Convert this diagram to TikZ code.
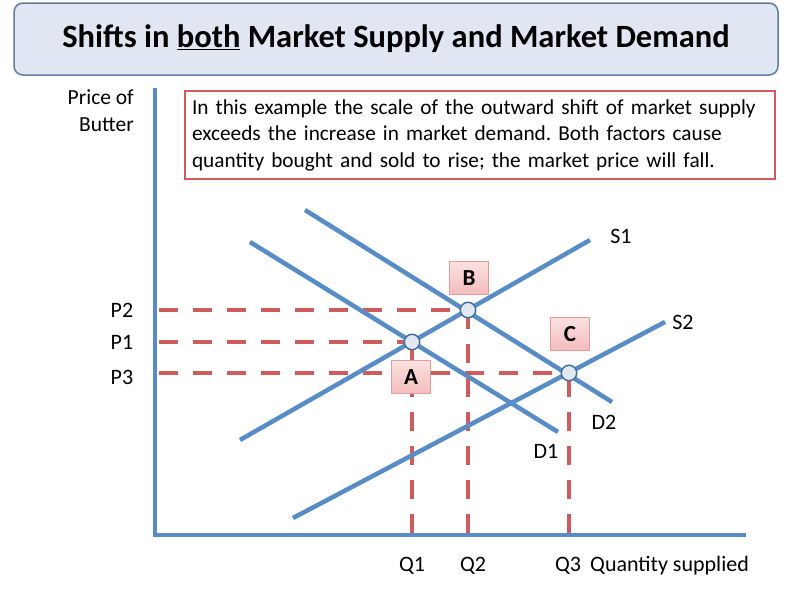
\documentclass[tikz,border=0pt]{standalone}
\usepackage{fontspec}
\setmainfont{Carlito}
\frenchspacing
\begin{document}
\begin{tikzpicture}[x=1pt,y=-1pt,
  curve/.style={draw=cblue,line width=4.5pt},
  axis/.style={draw=cblue,line width=4pt},
  guide/.style={draw=cred,line width=4.5pt,dash pattern=on 19pt off 15pt},
  lab/.style={font=\fontsize{22}{25}\selectfont,inner sep=0pt},
  eqpt/.style={circle,draw=cblue!80!black,line width=1.5pt,fill=cfill,minimum size=15.5pt,inner sep=0pt},
  tag/.style={draw=cred!60,line width=1pt,top color=cpink!45,bottom color=cpink,minimum width=39pt,minimum height=33pt,inner sep=0pt,font=\fontsize{23}{26}\selectfont\bfseries}]
\definecolor{cblue}{RGB}{88,140,198}
\definecolor{cred}{RGB}{206,92,92}
\definecolor{cfill}{RGB}{225,232,243}
\definecolor{cpink}{RGB}{244,188,188}
\definecolor{tfill}{RGB}{224,231,242}
\definecolor{tborder}{RGB}{98,124,160}
\useasboundingbox[fill=white] (0,0) rectangle (800,597);
% title
\node[draw=tborder,line width=1.5pt,fill=tfill,rounded corners=9pt,minimum width=764pt,minimum height=72pt,inner sep=0pt,
  font=\fontsize{32.5}{38}\selectfont\bfseries] (title) at (396,39) {Shifts in \underline{both} Market Supply and Market Demand};
% text box
\node[draw=cred,line width=1.5pt,fill=white,minimum width=590pt,minimum height=88pt,inner xsep=7pt,inner ysep=0pt,text width=576pt,align=left,
  font=\fontsize{21.3}{26.5}\selectfont] (note) at (480,135) {In this example the scale of the outward shift of market supply\\exceeds the increase in market demand. Both factors cause\\quantity bought and sold to rise; the market price will fall.};
% axes
\coordinate (origin) at (155,535);
\coordinate (ytop) at (155,88);
\coordinate (xend) at (746,535);
% equilibria
\coordinate (A) at (412,342);
\coordinate (B) at (468,310);
\coordinate (C) at (569,373);
% axis feet
\coordinate (p2) at (159,310);
\coordinate (p1) at (159,342);
\coordinate (p3) at (159,373);
\coordinate (q1) at (412,533);
\coordinate (q2) at (468,533);
\coordinate (q3) at (569,533);
% guides
\draw[guide] (p2) -- (B);
\draw[guide] (p1) -- (A);
\draw[guide] (p3) -- (C);
\draw[guide] (q1) -- (A);
\draw[guide] (q2) -- (B);
\draw[guide] (q3) -- (C);
% axes drawn
\draw[axis] (ytop) -- (origin) -- (xend);
% curves
\coordinate (s1s) at (240,440);
\coordinate (s1e) at (590,240);
\coordinate (s2s) at (293,518);
\coordinate (s2e) at (665,322);
\coordinate (d1s) at (250,242);
\coordinate (d1e) at (558,432);
\coordinate (d2s) at (305,210);
\coordinate (d2e) at (612,402);
\draw[curve] (s1s) -- (s1e);
\draw[curve] (s2s) -- (s2e);
\draw[curve] (d1s) -- (d1e);
\draw[curve] (d2s) -- (d2e);
% points
\node[eqpt] (pa) at (A) {};
\node[eqpt] (pb) at (B) {};
\node[eqpt] (pc) at (C) {};
% tags
\node[tag] (ta) at (411,377) {A};
\node[tag] (tb) at (469,278) {B};
\node[tag] (tc) at (570,334) {C};
% labels
\node[lab,anchor=east,align=right,font=\fontsize{21.5}{27}\selectfont] (ylab) at (134,111) {Price of\\Butter};
\node[lab] (lp2) at (122,310) {P2};
\node[lab] (lp1) at (122,342) {P1};
\node[lab] (lp3) at (122,377) {P3};
\node[lab] (lq1) at (412,566) {Q1};
\node[lab] (lq2) at (473,566) {Q2};
\node[lab] (lq3) at (568,566) {Q3};
\node[lab,anchor=west] (xlab) at (590,566) {Quantity supplied};
\node[lab] (ls1) at (621,236) {S1};
\node[lab] (ls2) at (683,322) {S2};
\node[lab] (ld1) at (546,451) {D1};
\node[lab] (ld2) at (604,422) {D2};
\end{tikzpicture}
\end{document}
